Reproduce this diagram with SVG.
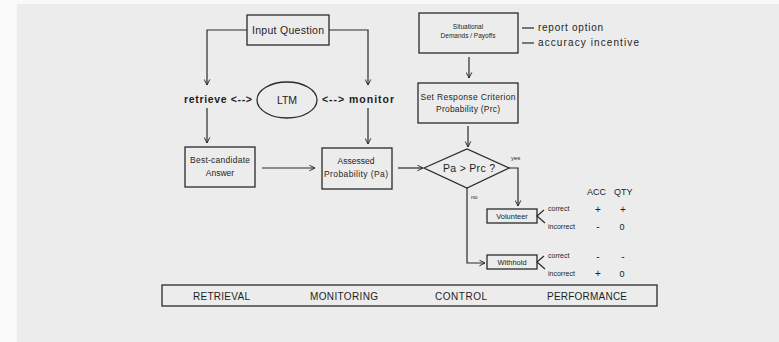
<svg xmlns="http://www.w3.org/2000/svg" width="779" height="342" viewBox="0 0 779 342">
<style>
  text{font-family:"Liberation Sans",Arial,sans-serif;fill:#1e1e1e}
  .box{fill:none;stroke:#2a2a2a;stroke-width:1.3}
  .ln{fill:none;stroke:#2a2a2a;stroke-width:1.2}
  .arr{marker-end:url(#ah)}
  .m{text-anchor:middle}
</style>
<defs>
  <marker id="ah" viewBox="0 0 10 10" refX="9" refY="5" markerWidth="7" markerHeight="7" markerUnits="userSpaceOnUse" orient="auto">
    <polyline points="1,1 9,5 1,9" fill="none" stroke="#2a2a2a" stroke-width="1.4"/>
  </marker>
</defs>
<rect x="0" y="0" width="779" height="342" fill="#f9f9f9"/>
<rect x="17" y="4" width="762" height="338" fill="#ececec"/>

<g id="connectors">
  <polyline class="ln arr" points="247,30 207,30 207,85"/>
  <polyline class="ln arr" points="329,30 368,30 368,85"/>
  <line class="ln arr" x1="207" y1="108" x2="207" y2="143"/>
  <line class="ln arr" x1="368" y1="108" x2="368" y2="144"/>
  <line class="ln arr" x1="262" y1="168" x2="315" y2="168"/>
  <line class="ln arr" x1="398" y1="168" x2="423" y2="168"/>
  <line class="ln arr" x1="469" y1="57" x2="469" y2="78"/>
  <line class="ln arr" x1="468" y1="126" x2="468" y2="147"/>
  <polyline class="ln arr" points="509,168 518,168 518,206"/>
  <polyline class="ln arr" points="467,188 467,263 485,263"/>
  <line class="ln" x1="522" y1="28" x2="534" y2="28"/>
  <line class="ln" x1="522" y1="43" x2="534" y2="43"/>
  <polyline class="ln" points="544,210 537,216 545,223"/>
  <polyline class="ln" points="544,256 537,262 545,269"/>
</g>

<g id="input-question">
  <rect class="box" x="247" y="15" width="82" height="30"/>
  <text class="m" x="288" y="34" font-size="10.5" textLength="72">Input Question</text>
</g>

<g id="ltm">
  <ellipse class="box" cx="287" cy="100" rx="30" ry="18"/>
  <text class="m" x="287" y="104" font-size="10.5">LTM</text>
  <text x="184" y="103" font-size="10.5" font-weight="bold" textLength="68">retrieve &lt;--&gt;</text>
  <text x="322" y="103" font-size="10.5" font-weight="bold" textLength="72">&lt;--&gt; monitor</text>
</g>

<g id="best-candidate">
  <rect class="box" x="185" y="147" width="70" height="40"/>
  <text class="m" x="220" y="163" font-size="8.5" textLength="60">Best-candidate</text>
  <text class="m" x="220" y="176" font-size="8.5">Answer</text>
</g>

<g id="assessed">
  <rect class="box" x="322" y="148" width="70" height="41"/>
  <text class="m" x="356" y="164" font-size="8.5">Assessed</text>
  <text class="m" x="356" y="177" font-size="8.5" textLength="64">Probability (Pa)</text>
</g>

<g id="situational">
  <rect class="box" x="419" y="13" width="99" height="40"/>
  <text class="m" x="468" y="29" font-size="6.5">Situational</text>
  <text class="m" x="468" y="38" font-size="6.5">Demands / Payoffs</text>
  <text x="538" y="31" font-size="10" textLength="65">report option</text>
  <text x="538" y="46" font-size="10" textLength="101">accuracy incentive</text>
</g>

<g id="set-response">
  <rect class="box" x="418" y="83" width="100" height="40"/>
  <text class="m" x="468" y="100" font-size="8.5" textLength="95">Set Response Criterion</text>
  <text class="m" x="468" y="112" font-size="8.5" textLength="64">Probability (Prc)</text>
</g>

<g id="decision">
  <polygon class="box" points="424,168 467,149 509,168 467,188"/>
  <text class="m" x="469" y="172" font-size="10.5" textLength="52">Pa &gt; Prc ?</text>
  <text x="511" y="160" font-size="6">yes</text>
  <text x="471" y="199" font-size="6">no</text>
</g>

<g id="volunteer">
  <rect class="box" x="487" y="209" width="50" height="14"/>
  <text class="m" x="512" y="219" font-size="7.5">Volunteer</text>
  <text x="548" y="211" font-size="7">correct</text>
  <text x="548" y="229" font-size="7">incorrect</text>
  <text class="m" x="598" y="213" font-size="10">+</text>
  <text class="m" x="623" y="213" font-size="10">+</text>
  <text class="m" x="598" y="230" font-size="10">-</text>
  <text class="m" x="622" y="230" font-size="9">0</text>
</g>

<g id="withhold">
  <rect class="box" x="487" y="255" width="50" height="14"/>
  <text class="m" x="512" y="265" font-size="7.5">Withhold</text>
  <text x="548" y="258" font-size="7">correct</text>
  <text x="548" y="276" font-size="7">incorrect</text>
  <text class="m" x="598" y="260" font-size="10">-</text>
  <text class="m" x="623" y="260" font-size="10">-</text>
  <text class="m" x="598" y="277" font-size="10">+</text>
  <text class="m" x="622" y="277" font-size="9">0</text>
</g>

<g id="acc-qty">
  <text x="587" y="195" font-size="9">ACC</text>
  <text x="614" y="195" font-size="9">QTY</text>
</g>

<g id="stages">
  <rect class="box" x="162" y="285" width="495" height="21"/>
  <text x="193" y="300" font-size="10" textLength="57">RETRIEVAL</text>
  <text x="310" y="300" font-size="10" textLength="68">MONITORING</text>
  <text x="435" y="300" font-size="10" textLength="52">CONTROL</text>
  <text x="547" y="300" font-size="10" textLength="80">PERFORMANCE</text>
</g>
</svg>
